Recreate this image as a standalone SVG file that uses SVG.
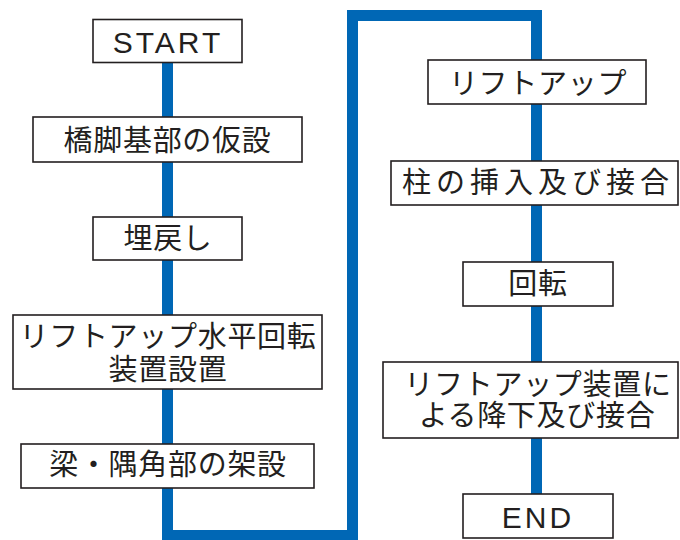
<svg xmlns="http://www.w3.org/2000/svg" width="680" height="540" viewBox="0 0 680 540">
<style>
.box{fill:#fff;stroke:#231f20;stroke-width:1.6}
.t{font-family:"Noto Sans CJK JP","Noto Sans",sans-serif;font-size:29px;fill:#231f20;text-anchor:middle;letter-spacing:0.7px}
.lat{font-family:"Liberation Sans",Arial,sans-serif;font-size:30px;letter-spacing:3px}
.flow{fill:none;stroke:#0067b5;stroke-width:11;stroke-linejoin:miter;stroke-linecap:butt}
</style>
<rect width="680" height="540" fill="#fff"/>
<g id="connectors">
<path class="flow" d="M167.5,60 V535.5 H352.5 V15.5 H536.5 V496"/>
</g>
<g id="start"><rect class="box" x="93" y="19.5" width="149" height="43"/><text class="t lat" x="168" y="53">START</text></g>
<g id="n1"><rect class="box" x="33" y="117" width="269" height="45"/><text class="t" x="167.5" y="151">橋脚基部の仮設</text></g>
<g id="n2"><rect class="box" x="93" y="217" width="149" height="43"/><text class="t" x="168" y="249">埋戻し</text></g>
<g id="n3"><rect class="box" x="13" y="315" width="309" height="74"/><text class="t" x="168" y="347">リフトアップ水平回転</text><text class="t" x="168" y="380">装置設置</text></g>
<g id="n4"><rect class="box" x="21" y="444" width="293" height="44"/><text class="t" x="168" y="475">梁・隅角部の架設</text></g>
<g id="n5"><rect class="box" x="428" y="60" width="218" height="44"/><text class="t" x="538" y="94">リフトアップ</text></g>
<g id="n6"><rect class="box" x="391" y="161" width="287" height="44"/><text class="t" x="538" y="193" style="letter-spacing:5px">柱の挿入及び接合</text></g>
<g id="n7"><rect class="box" x="463" y="262" width="150" height="44"/><text class="t" x="538" y="294">回転</text></g>
<g id="n8"><rect class="box" x="383" y="362" width="295" height="76"/><text class="t" x="538" y="395">リフトアップ装置に</text><text class="t" x="537" y="426">よる降下及び接合</text></g>
<g id="end"><rect class="box" x="463" y="494" width="150" height="44"/><text class="t lat" x="538" y="528">END</text></g>
</svg>
